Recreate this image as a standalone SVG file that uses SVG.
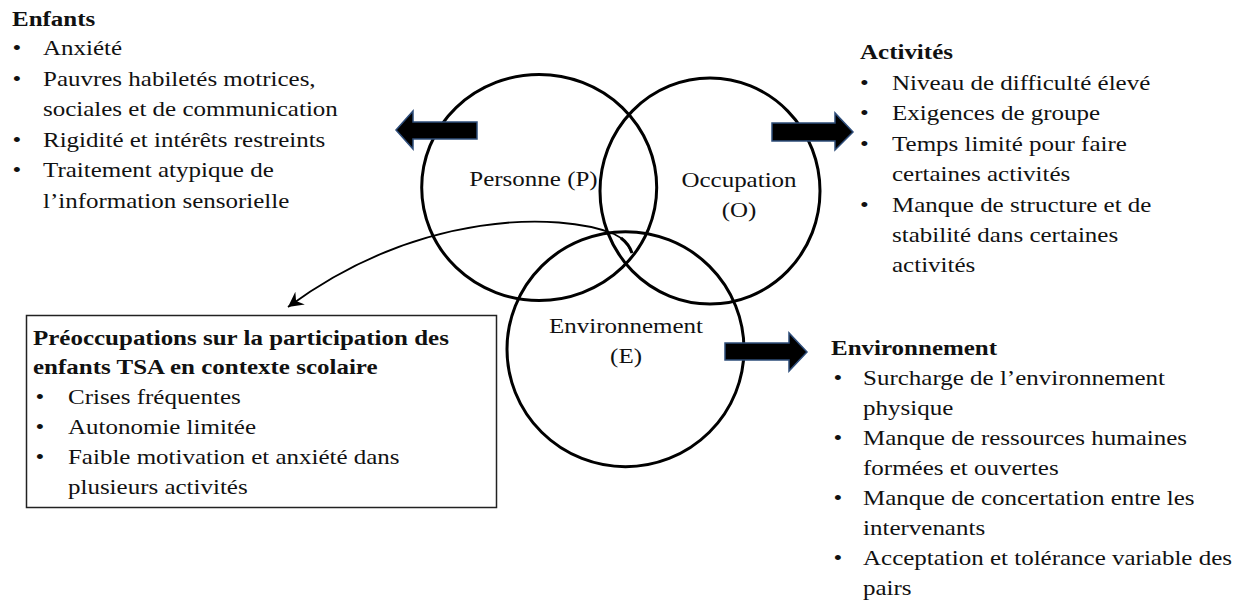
<svg xmlns="http://www.w3.org/2000/svg" width="1245" height="601" viewBox="0 0 1245 601">
<style>
text{font-family:"Liberation Serif","Times New Roman",serif;font-size:22px;fill:#111}
.b{font-weight:bold}
.c{fill:none;stroke:#000;stroke-width:3}
.fat{fill:#000;stroke:#2e4d7a;stroke-width:1.5;stroke-linejoin:miter}
.lbl{text-anchor:middle}
</style>
<defs>
<marker id="ah" viewBox="-15 -9 16 18" refX="0" refY="0" markerWidth="16" markerHeight="18" markerUnits="userSpaceOnUse" orient="auto">
<path d="M0,0 L-15,-8 L-10,0 L-15,8 Z" fill="#000"/>
</marker>
</defs>
<rect width="1245" height="601" fill="#fff"/>

<g id="circle-P"><ellipse class="c" cx="539.2" cy="187.5" rx="117.5" ry="113"/>
<text class="lbl" transform="translate(533.5,186) scale(1.136,1)">Personne (P)</text></g>
<g id="circle-O"><ellipse class="c" cx="710" cy="191" rx="110" ry="113"/>
<text class="lbl" transform="translate(739,187) scale(1.136,1)">Occupation</text>
<text class="lbl" transform="translate(739,217) scale(1.136,1)">(O)</text></g>
<g id="circle-E"><ellipse class="c" cx="625.5" cy="349.2" rx="118.5" ry="117.5"/>
<text class="lbl" transform="translate(626,333) scale(1.136,1)">Environnement</text>
<text class="lbl" transform="translate(626,363) scale(1.136,1)">(E)</text></g>

<g id="connectors">
<polygon class="fat" points="477,122 413,122 413,111 396,130 413,149 413,139 477,139"/>
<polygon class="fat" points="772,123 835,123 835,113 853,132 835,150 835,141 772,141"/>
<polygon class="fat" points="725,343 789,343 789,333 807,352 789,371 789,360 725,360"/>
<path d="M632,253 Q627,240 614,234 C560,212 420,210 288,307" fill="none" stroke="#000" stroke-width="1.8" marker-end="url(#ah)"/>
<path d="M621,238 Q629,244 632,253" fill="none" stroke="#000" stroke-width="3"/>
</g>

<g id="enfants" transform="translate(12,0) scale(1.136,1)">
<text class="b" x="0" y="26">Enfants</text>
<text x="0.5" y="55.5">•</text><text x="27.3" y="55.5">Anxiété</text>
<text x="0.5" y="86">•</text><text x="27.3" y="86">Pauvres habiletés motrices,</text>
<text x="27.3" y="116.5">sociales et de communication</text>
<text x="0.5" y="147">•</text><text x="27.3" y="147">Rigidité et intérêts restreints</text>
<text x="0.5" y="177.5">•</text><text x="27.3" y="177.5">Traitement atypique de</text>
<text x="27.3" y="208">l’information sensorielle</text>
</g>

<g id="activites" transform="translate(860,0) scale(1.136,1)">
<text class="b" x="0" y="59.5">Activités</text>
<text x="0" y="90">•</text><text x="28.2" y="90">Niveau de difficulté élevé</text>
<text x="0" y="120.4">•</text><text x="28.2" y="120.4">Exigences de groupe</text>
<text x="0" y="150.8">•</text><text x="28.2" y="150.8">Temps limité pour faire</text>
<text x="28.2" y="181.2">certaines activités</text>
<text x="0" y="211.6">•</text><text x="28.2" y="211.6">Manque de structure et de</text>
<text x="28.2" y="242">stabilité dans certaines</text>
<text x="28.2" y="272.4">activités</text>
</g>

<g id="environnement" transform="translate(831,0) scale(1.136,1)">
<text class="b" x="0" y="355">Environnement</text>
<text x="2.3" y="385">•</text><text x="28.2" y="385">Surcharge de l’environnement</text>
<text x="28.2" y="415">physique</text>
<text x="2.3" y="445">•</text><text x="28.2" y="445">Manque de ressources humaines</text>
<text x="28.2" y="475">formées et ouvertes</text>
<text x="2.3" y="505">•</text><text x="28.2" y="505">Manque de concertation entre les</text>
<text x="28.2" y="535">intervenants</text>
<text x="2.3" y="565">•</text><text x="28.2" y="565">Acceptation et tolérance variable des</text>
<text x="28.2" y="595">pairs</text>
</g>

<g id="preoccupations">
<rect x="26.5" y="315.5" width="470" height="192" fill="#fff" stroke="#222" stroke-width="1.5"/>
<g transform="translate(33,0) scale(1.136,1)">
<text class="b" x="0" y="345">Préoccupations sur la participation des</text>
<text class="b" x="0" y="374.5">enfants TSA en contexte scolaire</text>
<text x="2.3" y="404">•</text><text x="30.8" y="404">Crises fréquentes</text>
<text x="2.3" y="434">•</text><text x="30.8" y="434">Autonomie limitée</text>
<text x="2.3" y="464">•</text><text x="30.8" y="464">Faible motivation et anxiété dans</text>
<text x="30.8" y="494">plusieurs activités</text>
</g>
</g>
</svg>
